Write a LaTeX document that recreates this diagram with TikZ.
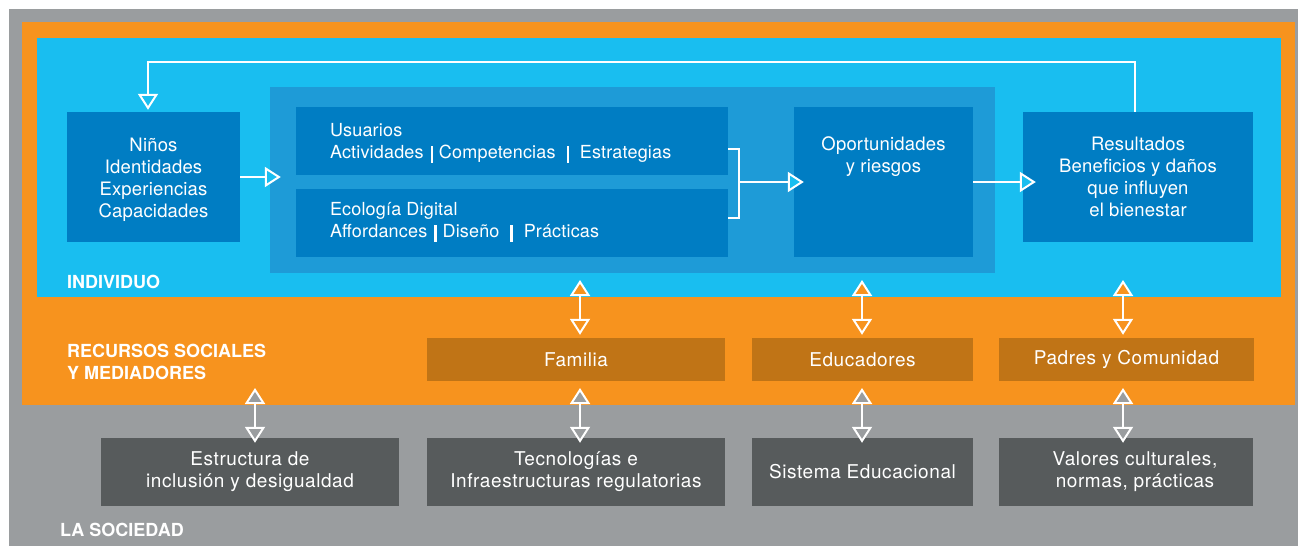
\documentclass[tikz,border=0pt]{standalone}
\usepackage{fontspec}
\setmainfont{TeX Gyre Heros}
\newfontfamily\bluefont[LetterSpace=1]{TeX Gyre Heros}
\newfontfamily\medfont[LetterSpace=3]{TeX Gyre Heros}
\usetikzlibrary{arrows.meta,calc}
\definecolor{cGray}{HTML}{9A9D9F}
\definecolor{cOrange}{HTML}{F7931E}
\definecolor{cLight}{HTML}{19BEF0}
\definecolor{cPanel}{HTML}{1E9BD7}
\definecolor{cDark}{HTML}{007DC3}
\definecolor{cBrown}{HTML}{C07416}
\definecolor{cSlate}{HTML}{575B5C}
\newcommand\vbar[2]{\hspace{#1}\rule[-4pt]{2.3pt}{17pt}\hspace{#2}}
\tikzset{
  box/.style={inner sep=0pt, text=white, font=\bluefont\fontsize{18.5}{22}\selectfont, align=center},
  txt/.style={inner sep=0pt, text=white, font=\bluefont\fontsize{18}{22}\selectfont},
  mtxt/.style={inner sep=0pt, text=white, font=\medfont\fontsize{19}{22}\selectfont, align=center},
  lbl/.style={inner sep=0pt, text=white, font=\fontsize{18}{22}\selectfont\bfseries, align=left},
  obox/.style={mtxt, fill=cBrown, minimum height=43pt},
  sbox/.style={mtxt, fill=cSlate, minimum height=68pt},
  wl/.style={draw=white, line width=2pt},
  arrL/.style={arrows={-Triangle[length=16pt,width=20pt,fill=cLight]}},
  dblO/.style={arrows={Triangle[length=16pt,width=20pt,fill=cOrange]-Triangle[length=16pt,width=20pt,fill=cOrange]}},
  dblG/.style={arrows={Triangle[length=16pt,width=20pt,fill=cGray]-Triangle[length=16pt,width=20pt,fill=cGray]}}
}
\begin{document}
\begin{tikzpicture}[x=1pt,y=-1pt]
\useasboundingbox (0,0) rectangle (1298,546);
\fill[cGray] (9,9) rectangle (1298,546);
\fill[cOrange] (22,22) rectangle (1295,405);
\fill[cLight] (37,38) rectangle (1281,297);

% individual level
\node[box, fill=cPanel, minimum width=725pt, minimum height=186pt] (panel) at (632.5,180) {};
\node[box, fill=cDark, minimum width=173pt, minimum height=130pt] (ninos) at (153.5,177) {};
\node[box] (ninosT) at ([yshift=-3pt]ninos.center) {Niños\\Identidades\\Experiencias\\Capacidades};
\node[box, fill=cDark, minimum width=432pt, minimum height=68pt] (usu) at (512,141) {};
\node[txt, anchor=west, align=left] (usuT) at ([xshift=34pt,yshift=-2pt]usu.west) {Usuarios\\Actividades\vbar{7pt}{6pt}Competencias\vbar{11pt}{11pt}Estrategias};
\node[box, fill=cDark, minimum width=432pt, minimum height=68pt] (eco) at (512,223) {};
\node[txt, anchor=west, align=left] (ecoT) at ([xshift=34pt,yshift=1pt]eco.west) {Ecología Digital\\Affordances\vbar{7pt}{6pt}Diseño\vbar{11pt}{11pt}Prácticas};
\node[box, fill=cDark, minimum width=179pt, minimum height=150pt] (opo) at (883.5,182) {};
\node[box, anchor=north] (opoT) at (883.5,136.5) {Oportunidades\\y riesgos};
\node[box, fill=cDark, minimum width=230pt, minimum height=130pt] (res) at (1138,177) {Resultados\\Beneficios y daños\\que influyen\\el bienestar};

\node[lbl, anchor=north west] (indiv) at (67,275) {INDIVIDUO};
\node[lbl, anchor=north west] (recur) at (67,344.3) {RECURSOS SOCIALES\\Y MEDIADORES};
\node[lbl, anchor=north west] (soc) at (60,523) {LA SOCIEDAD};

% mediators
\node[obox, minimum width=298pt] (fam) at (576,359.5) {Familia};
\node[obox, minimum width=221pt] (edu) at (862.5,359.5) {Educadores};
\node[obox, minimum width=255pt] (pad) at (1126.5,359.5) {Padres y Comunidad};

% society
\node[sbox, minimum width=298pt] (est) at (250,472) {Estructura de\\inclusión y desigualdad};
\node[sbox, minimum width=298pt] (tec) at (576,472) {Tecnologías e\\Infraestructuras regulatorias};
\node[sbox, minimum width=221pt] (sis) at (862.5,472) {Sistema Educacional};
\node[sbox, minimum width=254pt] (val) at (1126,472) {};
\node[mtxt] (valT) at ([xshift=9pt]val.center) {Valores culturales,\\normas, prácticas};

% flow arrows
\draw[wl, arrL, shorten >=-11pt] (ninos.east) -- (ninos.east -| panel.west);
\coordinate (brT) at (739,149);
\coordinate (brB) at (739,218);
\coordinate (brM) at (739,182);
\draw[wl] (brT -| usu.east) -- (brT) -- (brB) -- (brB -| eco.east);
\draw[wl, arrL, shorten >=-10pt] (brM) -- (brM -| opo.west);
\draw[wl, arrL, shorten >=-13pt] (opo.east) -- (opo.east -| res.west);

% feedback loop
\coordinate (fbR) at (1135,62);
\coordinate (fbL) at (148,62);
\draw[wl, arrL, shorten >=2pt] ([xshift=-3pt]res.north) -- (fbR) -- (fbL) -- (fbL |- ninos.north);

% vertical double arrows
\coordinate (a1) at (580,280);
\coordinate (a2) at (862,280);
\coordinate (a3) at (1123,280);
\draw[wl, dblO, shorten >=3pt] (a1) -- (a1 |- fam.north);
\draw[wl, dblO, shorten >=3pt] (a2) -- (a2 |- edu.north);
\draw[wl, dblO, shorten >=3pt] (a3) -- (a3 |- pad.north);

\coordinate (b0) at (255,388);
\coordinate (b1) at (580,388);
\coordinate (b2) at (862,388);
\coordinate (b3) at (1123,388);
\draw[wl, dblG, shorten >=-5pt] (b0) -- (b0 |- est.north);
\draw[wl, dblG, shorten >=-5pt] (b1) -- (b1 |- tec.north);
\draw[wl, dblG, shorten >=-5pt] (b2) -- (b2 |- sis.north);
\draw[wl, dblG, shorten >=-5pt] (b3) -- (b3 |- val.north);
\end{tikzpicture}
\end{document}
